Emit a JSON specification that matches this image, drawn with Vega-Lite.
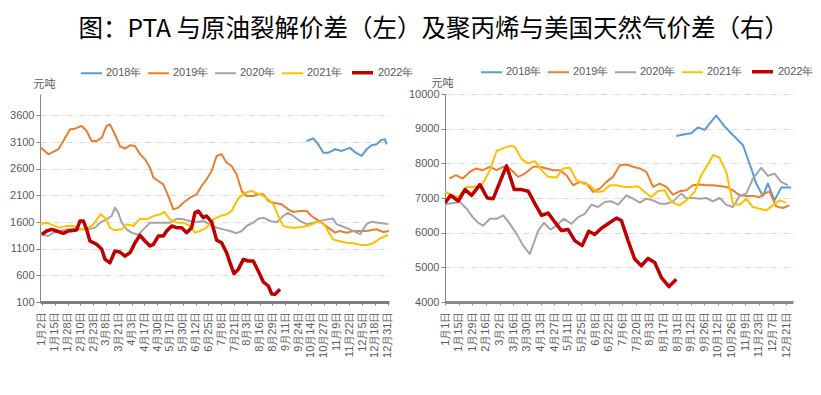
{
  "$schema": "https://vega.github.io/schema/vega-lite/v6.json",
  "background": "white",
  "padding": {"left": 9, "top": 16, "right": 5, "bottom": 5},
  "bounds": "flush",
  "spacing": 56,
  "title": {"text": "图：PTA 与原油裂解价差（左）及聚丙烯与美国天然气价差（右）", "font": "Noto Sans CJK SC", "fontSize": 24.5, "fontWeight": "normal", "color": "#000000", "anchor": "middle", "offset": 17, "dx": 22},
  "config": {
    "view": {"stroke": null},
    "axis": {"labelFont": "Liberation Sans", "labelFontSize": 11, "labelColor": "#595959", "titleFont": "Noto Sans CJK SC", "titleFontSize": 11, "titleColor": "#595959", "titleFontWeight": "normal", "domainColor": "#868686", "tickColor": "#868686", "gridColor": "#D9D9D9", "gridDash": [6, 3, 1, 3]},
    "legend": {"orient": "none", "direction": "horizontal", "title": null, "padding": 0, "symbolType": "stroke", "symbolSize": 441, "labelFont": "Liberation Sans", "labelFontSize": 11, "labelColor": "#595959", "labelOffset": 3, "columnPadding": 2}
  },
  "datasets": {
    "pta": [
      {"s": "2018年", "x": 20.67, "y": 3119}, {"s": "2018年", "x": 21.19, "y": 3169}, {"s": "2018年", "x": 21.58, "y": 3056}, {"s": "2018年", "x": 21.97, "y": 2900}, {"s": "2018年", "x": 22.36, "y": 2900}, {"s": "2018年", "x": 22.9, "y": 2964}, {"s": "2018年", "x": 23.4, "y": 2933}, {"s": "2018年", "x": 24.05, "y": 2990}, {"s": "2018年", "x": 24.5, "y": 2900}, {"s": "2018年", "x": 24.96, "y": 2840}, {"s": "2018年", "x": 25.35, "y": 2962}, {"s": "2018年", "x": 25.74, "y": 3040}, {"s": "2018年", "x": 26.13, "y": 3056}, {"s": "2018年", "x": 26.52, "y": 3140}, {"s": "2018年", "x": 26.78, "y": 3150}, {"s": "2018年", "x": 26.91, "y": 3056},
      {"s": "2019年", "x": -0.15, "y": 3012}, {"s": "2019年", "x": 0.5, "y": 2869}, {"s": "2019年", "x": 1.28, "y": 2962}, {"s": "2019年", "x": 1.67, "y": 3119}, {"s": "2019年", "x": 2.19, "y": 3337}, {"s": "2019年", "x": 2.58, "y": 3350}, {"s": "2019年", "x": 3.1, "y": 3400}, {"s": "2019年", "x": 3.49, "y": 3306}, {"s": "2019年", "x": 3.88, "y": 3119}, {"s": "2019年", "x": 4.28, "y": 3119}, {"s": "2019年", "x": 4.67, "y": 3181}, {"s": "2019年", "x": 5.05, "y": 3400}, {"s": "2019年", "x": 5.31, "y": 3431}, {"s": "2019年", "x": 5.7, "y": 3244}, {"s": "2019年", "x": 6.09, "y": 3025}, {"s": "2019年", "x": 6.49, "y": 2975}, {"s": "2019年", "x": 6.88, "y": 3037}, {"s": "2019年", "x": 7.27, "y": 3025}, {"s": "2019年", "x": 7.66, "y": 2869}, {"s": "2019年", "x": 8.05, "y": 2775}, {"s": "2019年", "x": 8.44, "y": 2619}, {"s": "2019年", "x": 8.7, "y": 2431}, {"s": "2019年", "x": 9.09, "y": 2369}, {"s": "2019年", "x": 9.48, "y": 2306}, {"s": "2019年", "x": 9.87, "y": 2087}, {"s": "2019年", "x": 10.26, "y": 1837}, {"s": "2019年", "x": 10.65, "y": 1869}, {"s": "2019年", "x": 11.04, "y": 1962}, {"s": "2019年", "x": 11.56, "y": 2056}, {"s": "2019年", "x": 12.08, "y": 2119}, {"s": "2019年", "x": 12.47, "y": 2275}, {"s": "2019年", "x": 12.86, "y": 2400}, {"s": "2019年", "x": 13.25, "y": 2556}, {"s": "2019年", "x": 13.64, "y": 2837}, {"s": "2019年", "x": 14.03, "y": 2869}, {"s": "2019年", "x": 14.42, "y": 2712}, {"s": "2019年", "x": 14.81, "y": 2650}, {"s": "2019年", "x": 15.2, "y": 2494}, {"s": "2019年", "x": 15.6, "y": 2181}, {"s": "2019年", "x": 15.98, "y": 2087}, {"s": "2019年", "x": 16.5, "y": 2087}, {"s": "2019年", "x": 16.89, "y": 2119}, {"s": "2019年", "x": 17.29, "y": 2119}, {"s": "2019年", "x": 17.68, "y": 1994}, {"s": "2019年", "x": 18.07, "y": 1962}, {"s": "2019年", "x": 18.72, "y": 1931}, {"s": "2019年", "x": 19.24, "y": 1837}, {"s": "2019年", "x": 19.63, "y": 1787}, {"s": "2019年", "x": 20.15, "y": 1806}, {"s": "2019年", "x": 20.67, "y": 1806}, {"s": "2019年", "x": 21.06, "y": 1712}, {"s": "2019年", "x": 21.45, "y": 1650}, {"s": "2019年", "x": 21.83, "y": 1587}, {"s": "2019年", "x": 22.36, "y": 1494}, {"s": "2019年", "x": 22.88, "y": 1400}, {"s": "2019年", "x": 23.27, "y": 1431}, {"s": "2019年", "x": 23.79, "y": 1400}, {"s": "2019年", "x": 24.32, "y": 1431}, {"s": "2019年", "x": 24.84, "y": 1431}, {"s": "2019年", "x": 25.35, "y": 1431}, {"s": "2019年", "x": 26.13, "y": 1462}, {"s": "2019年", "x": 26.65, "y": 1412}, {"s": "2019年", "x": 27.1, "y": 1431},
      {"s": "2020年", "x": -0.15, "y": 1369}, {"s": "2020年", "x": 0.5, "y": 1337}, {"s": "2020年", "x": 0.89, "y": 1400}, {"s": "2020年", "x": 1.41, "y": 1431}, {"s": "2020年", "x": 1.93, "y": 1462}, {"s": "2020年", "x": 2.45, "y": 1462}, {"s": "2020年", "x": 3.1, "y": 1462}, {"s": "2020年", "x": 3.62, "y": 1462}, {"s": "2020年", "x": 4.15, "y": 1494}, {"s": "2020年", "x": 4.54, "y": 1587}, {"s": "2020年", "x": 5.05, "y": 1650}, {"s": "2020年", "x": 5.44, "y": 1712}, {"s": "2020年", "x": 5.7, "y": 1869}, {"s": "2020年", "x": 5.96, "y": 1775}, {"s": "2020年", "x": 6.23, "y": 1587}, {"s": "2020年", "x": 6.62, "y": 1462}, {"s": "2020年", "x": 6.99, "y": 1400}, {"s": "2020年", "x": 7.53, "y": 1360}, {"s": "2020年", "x": 7.92, "y": 1462}, {"s": "2020年", "x": 8.44, "y": 1587}, {"s": "2020年", "x": 8.96, "y": 1587}, {"s": "2020年", "x": 9.48, "y": 1587}, {"s": "2020年", "x": 10.0, "y": 1587}, {"s": "2020年", "x": 10.53, "y": 1662}, {"s": "2020年", "x": 11.04, "y": 1650}, {"s": "2020年", "x": 11.56, "y": 1619}, {"s": "2020年", "x": 12.08, "y": 1600}, {"s": "2020年", "x": 12.6, "y": 1619}, {"s": "2020年", "x": 13.12, "y": 1556}, {"s": "2020年", "x": 13.64, "y": 1494}, {"s": "2020年", "x": 14.16, "y": 1462}, {"s": "2020年", "x": 14.68, "y": 1431}, {"s": "2020年", "x": 15.2, "y": 1390}, {"s": "2020年", "x": 15.6, "y": 1431}, {"s": "2020年", "x": 15.98, "y": 1525}, {"s": "2020年", "x": 16.5, "y": 1587}, {"s": "2020年", "x": 16.89, "y": 1662}, {"s": "2020年", "x": 17.29, "y": 1681}, {"s": "2020年", "x": 17.81, "y": 1619}, {"s": "2020年", "x": 18.33, "y": 1597}, {"s": "2020年", "x": 18.85, "y": 1712}, {"s": "2020年", "x": 19.2, "y": 1770}, {"s": "2020年", "x": 19.63, "y": 1712}, {"s": "2020年", "x": 20.15, "y": 1619}, {"s": "2020年", "x": 20.67, "y": 1560}, {"s": "2020年", "x": 21.19, "y": 1587}, {"s": "2020年", "x": 21.71, "y": 1619}, {"s": "2020年", "x": 22.1, "y": 1640}, {"s": "2020年", "x": 22.7, "y": 1667}, {"s": "2020年", "x": 23.01, "y": 1560}, {"s": "2020年", "x": 23.53, "y": 1510}, {"s": "2020年", "x": 24.05, "y": 1462}, {"s": "2020年", "x": 24.58, "y": 1400}, {"s": "2020年", "x": 24.85, "y": 1373}, {"s": "2020年", "x": 25.35, "y": 1560}, {"s": "2020年", "x": 25.7, "y": 1603}, {"s": "2020年", "x": 26.39, "y": 1580}, {"s": "2020年", "x": 27.04, "y": 1560},
      {"s": "2021年", "x": -0.15, "y": 1556}, {"s": "2021年", "x": 0.37, "y": 1587}, {"s": "2021年", "x": 0.89, "y": 1537}, {"s": "2021年", "x": 1.41, "y": 1494}, {"s": "2021年", "x": 1.93, "y": 1525}, {"s": "2021年", "x": 2.45, "y": 1525}, {"s": "2021年", "x": 2.97, "y": 1475}, {"s": "2021年", "x": 3.49, "y": 1462}, {"s": "2021年", "x": 4.02, "y": 1556}, {"s": "2021年", "x": 4.6, "y": 1747}, {"s": "2021年", "x": 4.93, "y": 1681}, {"s": "2021年", "x": 5.31, "y": 1494}, {"s": "2021年", "x": 5.65, "y": 1445}, {"s": "2021年", "x": 6.23, "y": 1462}, {"s": "2021年", "x": 6.62, "y": 1556}, {"s": "2021年", "x": 7.14, "y": 1525}, {"s": "2021年", "x": 7.66, "y": 1662}, {"s": "2021年", "x": 8.18, "y": 1650}, {"s": "2021年", "x": 8.7, "y": 1712}, {"s": "2021年", "x": 9.22, "y": 1744}, {"s": "2021年", "x": 9.55, "y": 1790}, {"s": "2021年", "x": 10.0, "y": 1650}, {"s": "2021年", "x": 10.53, "y": 1587}, {"s": "2021年", "x": 11.04, "y": 1587}, {"s": "2021年", "x": 11.56, "y": 1525}, {"s": "2021年", "x": 11.95, "y": 1400}, {"s": "2021年", "x": 12.34, "y": 1431}, {"s": "2021年", "x": 12.86, "y": 1494}, {"s": "2021年", "x": 13.38, "y": 1650}, {"s": "2021年", "x": 13.9, "y": 1712}, {"s": "2021年", "x": 14.42, "y": 1744}, {"s": "2021年", "x": 14.81, "y": 1806}, {"s": "2021年", "x": 15.33, "y": 2040}, {"s": "2021年", "x": 15.86, "y": 2150}, {"s": "2021年", "x": 16.38, "y": 2181}, {"s": "2021年", "x": 16.76, "y": 2140}, {"s": "2021年", "x": 17.29, "y": 2087}, {"s": "2021年", "x": 17.68, "y": 2025}, {"s": "2021年", "x": 18.07, "y": 1930}, {"s": "2021年", "x": 18.46, "y": 1712}, {"s": "2021年", "x": 18.85, "y": 1525}, {"s": "2021年", "x": 19.37, "y": 1494}, {"s": "2021年", "x": 19.89, "y": 1494}, {"s": "2021年", "x": 20.41, "y": 1510}, {"s": "2021年", "x": 20.93, "y": 1540}, {"s": "2021年", "x": 21.45, "y": 1600}, {"s": "2021年", "x": 21.97, "y": 1580}, {"s": "2021年", "x": 22.36, "y": 1420}, {"s": "2021年", "x": 22.75, "y": 1270}, {"s": "2021年", "x": 23.27, "y": 1240}, {"s": "2021年", "x": 23.79, "y": 1212}, {"s": "2021年", "x": 24.32, "y": 1200}, {"s": "2021年", "x": 24.84, "y": 1175}, {"s": "2021年", "x": 25.35, "y": 1165}, {"s": "2021年", "x": 25.87, "y": 1200}, {"s": "2021年", "x": 26.39, "y": 1290}, {"s": "2021年", "x": 27.04, "y": 1360},
      {"s": "2022年", "x": 0, "y": 1369}, {"s": "2022年", "x": 0.37, "y": 1431}, {"s": "2022年", "x": 0.76, "y": 1462}, {"s": "2022年", "x": 1.15, "y": 1431}, {"s": "2022年", "x": 1.67, "y": 1387}, {"s": "2022年", "x": 2.06, "y": 1431}, {"s": "2022年", "x": 2.71, "y": 1450}, {"s": "2022年", "x": 2.97, "y": 1619}, {"s": "2022年", "x": 3.23, "y": 1619}, {"s": "2022年", "x": 3.49, "y": 1462}, {"s": "2022年", "x": 3.75, "y": 1244}, {"s": "2022年", "x": 4.28, "y": 1181}, {"s": "2022年", "x": 4.67, "y": 1087}, {"s": "2022年", "x": 4.93, "y": 900}, {"s": "2022年", "x": 5.31, "y": 837}, {"s": "2022年", "x": 5.7, "y": 1056}, {"s": "2022年", "x": 6.09, "y": 1037}, {"s": "2022年", "x": 6.49, "y": 962}, {"s": "2022年", "x": 6.88, "y": 1025}, {"s": "2022年", "x": 7.27, "y": 1212}, {"s": "2022年", "x": 7.66, "y": 1350}, {"s": "2022年", "x": 8.05, "y": 1244}, {"s": "2022年", "x": 8.44, "y": 1150}, {"s": "2022年", "x": 8.7, "y": 1181}, {"s": "2022年", "x": 9.09, "y": 1337}, {"s": "2022年", "x": 9.48, "y": 1337}, {"s": "2022年", "x": 9.74, "y": 1431}, {"s": "2022年", "x": 10.13, "y": 1525}, {"s": "2022年", "x": 10.53, "y": 1494}, {"s": "2022年", "x": 10.91, "y": 1494}, {"s": "2022年", "x": 11.3, "y": 1400}, {"s": "2022年", "x": 11.69, "y": 1494}, {"s": "2022年", "x": 11.95, "y": 1775}, {"s": "2022年", "x": 12.21, "y": 1806}, {"s": "2022年", "x": 12.6, "y": 1681}, {"s": "2022年", "x": 12.86, "y": 1712}, {"s": "2022年", "x": 13.25, "y": 1600}, {"s": "2022年", "x": 13.64, "y": 1260}, {"s": "2022年", "x": 14.03, "y": 1212}, {"s": "2022年", "x": 14.42, "y": 1025}, {"s": "2022年", "x": 14.68, "y": 837}, {"s": "2022年", "x": 15.0, "y": 630}, {"s": "2022年", "x": 15.33, "y": 712}, {"s": "2022年", "x": 15.73, "y": 900}, {"s": "2022年", "x": 16.11, "y": 869}, {"s": "2022年", "x": 16.5, "y": 869}, {"s": "2022年", "x": 16.89, "y": 681}, {"s": "2022年", "x": 17.29, "y": 475}, {"s": "2022年", "x": 17.68, "y": 400}, {"s": "2022年", "x": 17.94, "y": 250}, {"s": "2022年", "x": 18.2, "y": 244}, {"s": "2022年", "x": 18.46, "y": 306}, {"s": "2022年", "x": 18.59, "y": 337}
    ],
    "pp": [
      {"s": "2018年", "x": 33.9, "y": 8790}, {"s": "2018年", "x": 35.12, "y": 8839}, {"s": "2018年", "x": 36.1, "y": 8868}, {"s": "2018年", "x": 37.07, "y": 9032}, {"s": "2018年", "x": 38.05, "y": 8964}, {"s": "2018年", "x": 39.76, "y": 9380}, {"s": "2018年", "x": 40.98, "y": 9061}, {"s": "2018年", "x": 42.2, "y": 8819}, {"s": "2018年", "x": 43.66, "y": 8529}, {"s": "2018年", "x": 44.88, "y": 7852}, {"s": "2018年", "x": 45.61, "y": 7416}, {"s": "2018年", "x": 46.59, "y": 7058}, {"s": "2018年", "x": 47.32, "y": 7416}, {"s": "2018年", "x": 48.29, "y": 6932}, {"s": "2018年", "x": 49.27, "y": 7300}, {"s": "2018年", "x": 50.73, "y": 7300},
      {"s": "2019年", "x": 0.63, "y": 7561}, {"s": "2019年", "x": 1.61, "y": 7658}, {"s": "2019年", "x": 2.59, "y": 7561}, {"s": "2019年", "x": 3.66, "y": 7755}, {"s": "2019年", "x": 4.54, "y": 7852}, {"s": "2019年", "x": 5.51, "y": 7803}, {"s": "2019年", "x": 6.59, "y": 7900}, {"s": "2019年", "x": 7.56, "y": 7803}, {"s": "2019年", "x": 8.54, "y": 7900}, {"s": "2019年", "x": 9.51, "y": 7852}, {"s": "2019年", "x": 10.73, "y": 7610}, {"s": "2019年", "x": 11.71, "y": 7706}, {"s": "2019年", "x": 12.93, "y": 7900}, {"s": "2019年", "x": 13.9, "y": 7900}, {"s": "2019年", "x": 14.88, "y": 7852}, {"s": "2019年", "x": 15.85, "y": 7803}, {"s": "2019年", "x": 16.83, "y": 7803}, {"s": "2019年", "x": 17.8, "y": 7658}, {"s": "2019年", "x": 18.78, "y": 7368}, {"s": "2019年", "x": 19.76, "y": 7464}, {"s": "2019年", "x": 20.73, "y": 7416}, {"s": "2019年", "x": 21.71, "y": 7174}, {"s": "2019年", "x": 22.68, "y": 7271}, {"s": "2019年", "x": 23.66, "y": 7464}, {"s": "2019年", "x": 24.63, "y": 7610}, {"s": "2019年", "x": 25.61, "y": 7948}, {"s": "2019年", "x": 26.59, "y": 7968}, {"s": "2019年", "x": 27.56, "y": 7900}, {"s": "2019年", "x": 28.54, "y": 7852}, {"s": "2019年", "x": 29.51, "y": 7755}, {"s": "2019年", "x": 30.49, "y": 7319}, {"s": "2019年", "x": 31.46, "y": 7416}, {"s": "2019年", "x": 32.44, "y": 7319}, {"s": "2019年", "x": 33.41, "y": 7097}, {"s": "2019年", "x": 34.39, "y": 7193}, {"s": "2019年", "x": 35.37, "y": 7222}, {"s": "2019年", "x": 36.34, "y": 7368}, {"s": "2019年", "x": 37.32, "y": 7387}, {"s": "2019年", "x": 38.29, "y": 7368}, {"s": "2019年", "x": 39.27, "y": 7368}, {"s": "2019年", "x": 40.24, "y": 7348}, {"s": "2019年", "x": 41.22, "y": 7319}, {"s": "2019年", "x": 42.2, "y": 7222}, {"s": "2019年", "x": 43.17, "y": 7077}, {"s": "2019年", "x": 44.15, "y": 7058}, {"s": "2019年", "x": 45.12, "y": 7058}, {"s": "2019年", "x": 46.1, "y": 7029}, {"s": "2019年", "x": 47.07, "y": 7155}, {"s": "2019年", "x": 47.56, "y": 7193}, {"s": "2019年", "x": 48.54, "y": 6758}, {"s": "2019年", "x": 49.51, "y": 6710}, {"s": "2019年", "x": 50.49, "y": 6787},
      {"s": "2020年", "x": 0, "y": 6816}, {"s": "2020年", "x": 1.22, "y": 6855}, {"s": "2020年", "x": 2.2, "y": 6884}, {"s": "2020年", "x": 3.17, "y": 6690}, {"s": "2020年", "x": 4.05, "y": 6448}, {"s": "2020年", "x": 4.88, "y": 6284}, {"s": "2020年", "x": 5.61, "y": 6206}, {"s": "2020年", "x": 6.59, "y": 6400}, {"s": "2020年", "x": 7.56, "y": 6400}, {"s": "2020年", "x": 8.54, "y": 6497}, {"s": "2020年", "x": 9.51, "y": 6255}, {"s": "2020年", "x": 10.49, "y": 5965}, {"s": "2020年", "x": 11.46, "y": 5626}, {"s": "2020年", "x": 12.44, "y": 5384}, {"s": "2020年", "x": 13.66, "y": 6061}, {"s": "2020年", "x": 14.49, "y": 6284}, {"s": "2020年", "x": 15.46, "y": 6090}, {"s": "2020年", "x": 16.34, "y": 6206}, {"s": "2020年", "x": 17.41, "y": 6400}, {"s": "2020年", "x": 18.54, "y": 6255}, {"s": "2020年", "x": 19.51, "y": 6448}, {"s": "2020年", "x": 20.49, "y": 6545}, {"s": "2020年", "x": 21.46, "y": 6806}, {"s": "2020年", "x": 22.44, "y": 6739}, {"s": "2020年", "x": 23.41, "y": 6884}, {"s": "2020年", "x": 24.39, "y": 6903}, {"s": "2020年", "x": 25.37, "y": 6806}, {"s": "2020年", "x": 26.59, "y": 7077}, {"s": "2020年", "x": 27.56, "y": 6981}, {"s": "2020年", "x": 28.54, "y": 6865}, {"s": "2020年", "x": 29.51, "y": 6981}, {"s": "2020年", "x": 30.49, "y": 6932}, {"s": "2020年", "x": 31.46, "y": 6835}, {"s": "2020年", "x": 32.44, "y": 6835}, {"s": "2020年", "x": 33.41, "y": 6903}, {"s": "2020年", "x": 34.63, "y": 7126}, {"s": "2020年", "x": 35.37, "y": 7000}, {"s": "2020年", "x": 36.34, "y": 7000}, {"s": "2020年", "x": 37.32, "y": 6981}, {"s": "2020年", "x": 38.29, "y": 7000}, {"s": "2020年", "x": 39.27, "y": 6903}, {"s": "2020年", "x": 40.24, "y": 7000}, {"s": "2020年", "x": 41.22, "y": 6806}, {"s": "2020年", "x": 42.2, "y": 6739}, {"s": "2020年", "x": 43.17, "y": 7058}, {"s": "2020年", "x": 44.15, "y": 7126}, {"s": "2020年", "x": 45.12, "y": 7561}, {"s": "2020年", "x": 46.34, "y": 7871}, {"s": "2020年", "x": 47.32, "y": 7639}, {"s": "2020年", "x": 48.29, "y": 7706}, {"s": "2020年", "x": 49.27, "y": 7464}, {"s": "2020年", "x": 50.24, "y": 7368},
      {"s": "2021年", "x": 0, "y": 7193}, {"s": "2021年", "x": 0.98, "y": 7077}, {"s": "2021年", "x": 1.95, "y": 7029}, {"s": "2021年", "x": 3.17, "y": 7319}, {"s": "2021年", "x": 4.15, "y": 7319}, {"s": "2021年", "x": 5.37, "y": 7368}, {"s": "2021年", "x": 6.59, "y": 7803}, {"s": "2021年", "x": 7.56, "y": 8355}, {"s": "2021年", "x": 8.78, "y": 8452}, {"s": "2021年", "x": 9.51, "y": 8500}, {"s": "2021年", "x": 10.24, "y": 8480}, {"s": "2021年", "x": 11.22, "y": 8122}, {"s": "2021年", "x": 12.2, "y": 7997}, {"s": "2021年", "x": 13.17, "y": 8064}, {"s": "2021年", "x": 14.15, "y": 7803}, {"s": "2021年", "x": 15.12, "y": 7610}, {"s": "2021年", "x": 16.34, "y": 7590}, {"s": "2021年", "x": 17.32, "y": 7852}, {"s": "2021年", "x": 18.29, "y": 7871}, {"s": "2021年", "x": 19.27, "y": 7513}, {"s": "2021年", "x": 20.24, "y": 7416}, {"s": "2021年", "x": 21.22, "y": 7368}, {"s": "2021年", "x": 22.2, "y": 7174}, {"s": "2021年", "x": 23.17, "y": 7193}, {"s": "2021年", "x": 24.15, "y": 7368}, {"s": "2021年", "x": 25.12, "y": 7368}, {"s": "2021年", "x": 26.34, "y": 7319}, {"s": "2021年", "x": 27.32, "y": 7319}, {"s": "2021年", "x": 28.29, "y": 7339}, {"s": "2021年", "x": 29.27, "y": 7174}, {"s": "2021年", "x": 30.24, "y": 7029}, {"s": "2021年", "x": 31.22, "y": 7203}, {"s": "2021年", "x": 32.2, "y": 7222}, {"s": "2021年", "x": 33.17, "y": 6884}, {"s": "2021年", "x": 34.39, "y": 6787}, {"s": "2021年", "x": 35.61, "y": 6981}, {"s": "2021年", "x": 36.59, "y": 7174}, {"s": "2021年", "x": 37.56, "y": 7658}, {"s": "2021年", "x": 38.54, "y": 7968}, {"s": "2021年", "x": 39.27, "y": 8239}, {"s": "2021年", "x": 40.24, "y": 8161}, {"s": "2021年", "x": 41.22, "y": 7755}, {"s": "2021年", "x": 42.2, "y": 6835}, {"s": "2021年", "x": 43.17, "y": 6806}, {"s": "2021年", "x": 44.15, "y": 6981}, {"s": "2021年", "x": 45.12, "y": 6739}, {"s": "2021年", "x": 46.1, "y": 6690}, {"s": "2021年", "x": 47.07, "y": 6642}, {"s": "2021年", "x": 48.05, "y": 6787}, {"s": "2021年", "x": 49.02, "y": 6932}, {"s": "2021年", "x": 50.0, "y": 6865},
      {"s": "2022年", "x": 0, "y": 6855}, {"s": "2022年", "x": 0.83, "y": 7077}, {"s": "2022年", "x": 1.95, "y": 6913}, {"s": "2022年", "x": 2.93, "y": 7242}, {"s": "2022年", "x": 3.9, "y": 7077}, {"s": "2022年", "x": 5.12, "y": 7387}, {"s": "2022年", "x": 6.2, "y": 7000}, {"s": "2022年", "x": 7.07, "y": 6981}, {"s": "2022年", "x": 8.05, "y": 7464}, {"s": "2022年", "x": 9.02, "y": 7929}, {"s": "2022年", "x": 10.15, "y": 7242}, {"s": "2022年", "x": 11.22, "y": 7242}, {"s": "2022年", "x": 12.2, "y": 7193}, {"s": "2022年", "x": 13.17, "y": 6836}, {"s": "2022年", "x": 14.15, "y": 6497}, {"s": "2022年", "x": 15.12, "y": 6565}, {"s": "2022年", "x": 16.1, "y": 6303}, {"s": "2022年", "x": 17.07, "y": 6061}, {"s": "2022年", "x": 18.05, "y": 6090}, {"s": "2022年", "x": 19.02, "y": 5771}, {"s": "2022年", "x": 20.1, "y": 5626}, {"s": "2022年", "x": 21.07, "y": 6042}, {"s": "2022年", "x": 21.95, "y": 5945}, {"s": "2022年", "x": 22.93, "y": 6129}, {"s": "2022年", "x": 23.9, "y": 6255}, {"s": "2022年", "x": 25.12, "y": 6419}, {"s": "2022年", "x": 25.85, "y": 6352}, {"s": "2022年", "x": 26.83, "y": 5771}, {"s": "2022年", "x": 27.8, "y": 5239}, {"s": "2022年", "x": 28.78, "y": 5045}, {"s": "2022年", "x": 29.76, "y": 5258}, {"s": "2022年", "x": 30.73, "y": 5142}, {"s": "2022年", "x": 31.71, "y": 4706}, {"s": "2022年", "x": 32.83, "y": 4445}, {"s": "2022年", "x": 33.9, "y": 4658}
    ]
  },
  "hconcat": [
    {
      "width": 349,
      "height": 208,
      "data": {"name": "pta"},
      "mark": {"type": "line", "strokeJoin": "round", "clip": true},
      "encoding": {
        "x": {"field": "x", "type": "quantitative", "scale": {"domain": [-0.15, 27.1], "nice": false, "zero": false},
          "axis": {"title": null, "grid": false, "values": [0,1,2,3,4,5,6,7,8,9,10,11,12,13,14,15,16,17,18,19,20,21,22,23,24,25,26,27],
            "labelExpr": "['1月2日','1月15日','1月28日','2月10日','2月23日','3月8日','3月21日','4月3日','4月17日','4月30日','5月17日','5月30日','6月12日','6月25日','7月8日','7月21日','8月3日','8月16日','8月29日','9月11日','9月24日','10月14日','10月27日','11月9日','11月22日','12月5日','12月18日','12月31日'][datum.value]",
            "labelAngle": 270, "labelPadding": 6, "tickSize": 3, "domainColor": "#7F7F7F", "domainWidth": 3, "tickColor": "#7F7F7F", "labelOverlap": false, "labelBound": false}},
        "y": {"field": "y", "type": "quantitative", "scale": {"domain": [100, 4000], "nice": false, "zero": false},
          "axis": {"values": [100, 600, 1100, 1600, 2100, 2600, 3100, 3600], "format": "d", "grid": true, "tickSize": 4, "labelPadding": 2, "minExtent": 30, "maxExtent": 30,
            "title": "元吨", "titleAngle": 0, "titleX": -7, "titleY": -10, "titleAlign": "left", "titleBaseline": "middle"}},
        "color": {"field": "s", "type": "nominal",
          "scale": {"domain": ["2018年", "2019年", "2020年", "2021年", "2022年"], "range": ["#5B9BD5", "#ED7D31", "#A5A5A5", "#FFC000", "#C00000"]},
          "legend": {"legendX": 40, "legendY": -34}},
        "strokeWidth": {"field": "s", "type": "nominal",
          "scale": {"type": "ordinal", "domain": ["2018年", "2019年", "2020年", "2021年", "2022年"], "range": [2, 2, 2, 2, 3.5]},
          "legend": {"legendX": 40, "legendY": -34}}
      }
    },
    {
      "width": 348,
      "height": 208,
      "data": {"name": "pp"},
      "mark": {"type": "line", "strokeJoin": "round", "clip": true},
      "encoding": {
        "x": {"field": "x", "type": "quantitative", "scale": {"domain": [0, 51], "nice": false, "zero": false},
          "axis": {"title": null, "grid": false, "values": [0,2,4,6,8,10,12,14,16,18,20,22,24,26,28,30,32,34,36,38,40,42,44,46,48,50],
            "labelExpr": "['1月1日','1月15日','1月29日','2月16日','3月2日','3月16日','3月30日','4月13日','4月27日','5月11日','5月25日','6月8日','6月22日','7月6日','7月20日','8月3日','8月17日','8月31日','9月12日','9月26日','10月12日','10月26日','11月9日','11月23日','12月7日','12月21日'][datum.value/2]",
            "labelAngle": 270, "labelPadding": 6, "tickSize": 3, "domainColor": "#8C8C8C", "domainWidth": 3, "tickColor": "#8C8C8C", "labelOverlap": false, "labelBound": false}},
        "y": {"field": "y", "type": "quantitative", "scale": {"domain": [4000, 10000], "nice": false, "zero": false},
          "axis": {"values": [4000, 5000, 6000, 7000, 8000, 9000, 10000], "format": "d", "grid": true, "tickSize": 4, "labelPadding": 2, "minExtent": 38, "maxExtent": 38,
            "title": "元吨", "titleAngle": 0, "titleX": -14, "titleY": -11, "titleAlign": "left", "titleBaseline": "middle"}},
        "color": {"field": "s", "type": "nominal",
          "scale": {"domain": ["2018年", "2019年", "2020年", "2021年", "2022年"], "range": ["#5B9BD5", "#ED7D31", "#A5A5A5", "#FFC000", "#C00000"]},
          "legend": {"legendX": 35, "legendY": -35}},
        "strokeWidth": {"field": "s", "type": "nominal",
          "scale": {"type": "ordinal", "domain": ["2018年", "2019年", "2020年", "2021年", "2022年"], "range": [2, 2, 2, 2, 3.5]},
          "legend": {"legendX": 35, "legendY": -35}}
      }
    }
  ],
  "resolve": {
    "scale": {"x": "independent", "y": "independent", "color": "independent", "strokeWidth": "independent"},
    "axis": {"x": "independent", "y": "independent"},
    "legend": {"color": "independent", "strokeWidth": "independent"}
  }
}
